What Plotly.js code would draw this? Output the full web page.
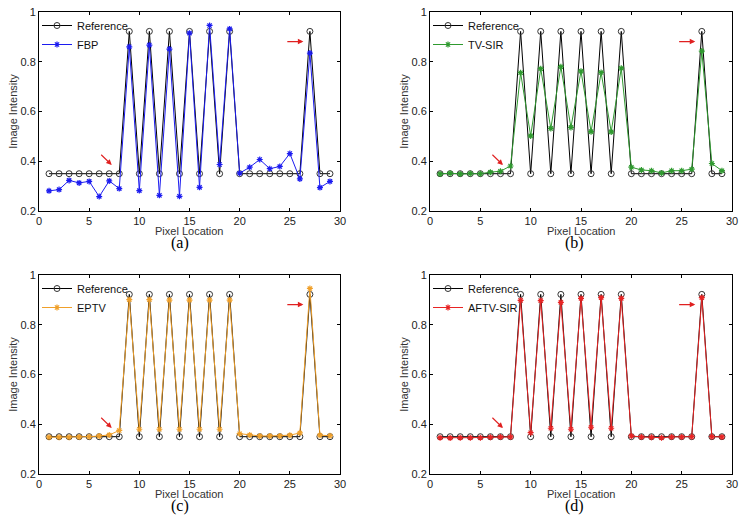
<!DOCTYPE html>
<html>
<head>
<meta charset="utf-8">
<script src="https://cdn.plot.ly/plotly-3.0.1.min.js"></script>
<style>html,body{margin:0;padding:0;background:#fff;}#chart{width:745px;height:526px;}</style>
</head>
<body>
<div id="chart"></div>
<script>
// ---- data ----
const pixelLocation = [1,2,3,4,5,6,7,8,9,10,11,12,13,14,15,16,17,18,19,20,21,22,23,24,25,26,27,28,29];
const reference = [0.35,0.35,0.35,0.35,0.35,0.35,0.35,0.35,0.922,0.35,0.922,0.35,0.922,0.35,0.922,0.35,0.922,0.35,0.922,0.35,0.35,0.35,0.35,0.35,0.35,0.35,0.922,0.35,0.35];
const fbp = [0.281,0.286,0.323,0.313,0.319,0.258,0.321,0.290,0.860,0.282,0.867,0.263,0.851,0.259,0.915,0.295,0.946,0.387,0.932,0.352,0.376,0.407,0.370,0.379,0.431,0.329,0.835,0.294,0.319];
const tvSir = [0.349,0.352,0.349,0.351,0.350,0.356,0.360,0.381,0.756,0.502,0.772,0.532,0.780,0.536,0.762,0.519,0.757,0.518,0.774,0.376,0.365,0.362,0.353,0.362,0.362,0.368,0.843,0.391,0.362];
const eptv = [0.348,0.348,0.348,0.349,0.350,0.353,0.357,0.375,0.901,0.380,0.901,0.380,0.899,0.380,0.899,0.380,0.899,0.380,0.899,0.362,0.357,0.353,0.353,0.353,0.356,0.365,0.946,0.356,0.354];
const aftvSir = [0.346,0.345,0.346,0.346,0.346,0.348,0.349,0.349,0.898,0.366,0.897,0.384,0.890,0.380,0.906,0.388,0.909,0.384,0.906,0.353,0.349,0.348,0.346,0.349,0.349,0.350,0.909,0.350,0.349];
const methodNames = ['FBP','TV-SIR','EPTV','AFTV-SIR'];
const methodSeries = [fbp, tvSir, eptv, aftvSir];
const captions = ['(a)','(b)','(c)','(d)'];
const xTickVals = [0,5,10,15,20,25,30];
const yTickVals = [0.2,0.4,0.6,0.8,1];
const xTitle = 'Pixel Location';
const yTitle = 'Image Intensity';

// ---- styling ----
const W = 745, H = 526;
const methodColors = ['#1c1cf0','#2f9a2f','#f0a02a','#e82424'];
const boxes = [ // pixel boxes [left,right,top,bottom]
  [39,340,12,211],[430,732,12,211],[39,340,275,474],[430,732,275,474]
];
const capPos = [[180,243],[574,243],[180,506],[574,506]];
const font = 'Liberation Sans, Arial, sans-serif';

const traces = [];
const layout = {
  width: W, height: H,
  margin: {l:0,r:0,t:0,b:0},
  paper_bgcolor: '#fff', plot_bgcolor: '#fff',
  font: {family: font, size: 11, color: '#222'},
  showlegend: true,
  annotations: [],
};

boxes.forEach((b, i) => {
  const n = i === 0 ? '' : String(i + 1);
  const xa = 'xaxis' + n, ya = 'yaxis' + n;
  const xr = 'x' + n, yr = 'y' + n;
  const lg = i === 0 ? 'legend' : 'legend' + (i + 1);
  traces.push({
    x: pixelLocation, y: reference, type: 'scatter', mode: 'lines+markers',
    name: 'Reference', xaxis: xr, yaxis: yr, legend: lg,
    line: {color: '#000', width: 1},
    marker: {symbol: 'circle-open', size: 6, color: '#333', line: {width: 1, color: '#333'}}
  });
  traces.push({
    x: pixelLocation, y: methodSeries[i], type: 'scatter', mode: 'lines+markers',
    name: methodNames[i], xaxis: xr, yaxis: yr, legend: lg,
    line: {color: methodColors[i], width: 1},
    marker: {symbol: 'asterisk-open', size: 5, color: methodColors[i], line: {width: 1.2, color: methodColors[i]}}
  });
  const axCommon = {
    showline: true, linecolor: '#000', linewidth: 1, mirror: 'ticks',
    ticks: 'inside', ticklen: 3, tickcolor: '#000', tickwidth: 1,
    showgrid: false, zeroline: false, fixedrange: true,
    tickfont: {family: font, size: 11, color: '#222'}
  };
  layout[xa] = Object.assign({}, axCommon, {
    domain: [b[0]/W, b[1]/W], anchor: yr, range: [0, 30],
    tickvals: xTickVals, ticktext: xTickVals.map(String)
  });
  layout[ya] = Object.assign({}, axCommon, {
    domain: [1 - b[3]/H, 1 - b[2]/H], anchor: xr, range: [0.2, 1],
    tickvals: yTickVals, ticktext: yTickVals.map(String),
    title: {text: yTitle, font: {family: font, size: 11, color: '#333'}, standoff: 0}
  });
  layout[lg] = {
    x: (b[0] - 2)/W, y: 1 - (b[2] - 1)/H, xanchor: 'left', yanchor: 'top',
    bgcolor: 'rgba(0,0,0,0)', borderwidth: 0, font: {family: font, size: 11, color: '#111'},
    tracegroupgap: 0, itemwidth: 30
  };
  // x-axis title
  layout.annotations.push({
    xref: 'paper', yref: 'paper', x: (b[0] + b[1]) / 2 / W, y: 1 - (b[3] + 20) / H,
    xanchor: 'center', yanchor: 'middle', showarrow: false, text: xTitle,
    font: {family: font, size: 11, color: '#333'}
  });
  // arrows
  layout.annotations.push({
    xref: xr, yref: yr, axref: xr, ayref: yr, x: 7.25, y: 0.385, ax: 6.05, ay: 0.432,
    showarrow: true, text: '', arrowhead: 2, arrowsize: 1, arrowwidth: 1.1, arrowcolor: '#e02020'
  });
  layout.annotations.push({
    xref: xr, yref: yr, axref: xr, ayref: yr, x: 26.35, y: 0.881, ax: 24.6, ay: 0.881,
    showarrow: true, text: '', arrowhead: 2, arrowsize: 1, arrowwidth: 1.1, arrowcolor: '#e02020'
  });
  layout.annotations.push({
    xref: 'paper', yref: 'paper', x: capPos[i][0]/W, y: 1 - capPos[i][1]/H,
    xanchor: 'center', yanchor: 'middle', showarrow: false, text: captions[i],
    font: {family: 'Liberation Serif, Times New Roman, serif', size: 16, color: '#000'}
  });
});

Plotly.newPlot('chart', traces, layout, {displayModeBar: false, staticPlot: true});
</script>
</body>
</html>
